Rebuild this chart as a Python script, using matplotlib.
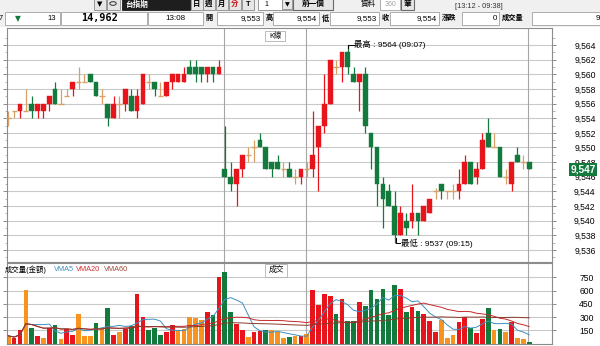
import matplotlib
matplotlib.use('Agg')
import matplotlib.pyplot as plt
from matplotlib.patches import Rectangle
from matplotlib.transforms import blended_transform_factory
import numpy as np
import pandas as pd

plt.rcParams['font.family'] = ['Liberation Sans', 'Noto Sans CJK TC', 'DejaVu Sans']

# ---------------- data ----------------
opens = [9554, 9555, 9555, 9555, 9556, 9555, 9555, 9556, 9558, 9556,
         9557, 9558, 9559, 9559, 9560, 9559, 9557, 9556, 9554, 9556,
         9556, 9557, 9555, 9556, 9559, 9559, 9557, 9557, 9559, 9559,
         9559, 9561, 9561, 9561, 9560, 9561, 9560,
         9547, 9546, 9545, 9547, 9549, 9550, 9551, 9550, 9548, 9548,
         9547, 9547, 9546, 9546, 9547, 9547, 9550, 9553, 9556, 9561,
         9561, 9563, 9560, 9559, 9560, 9552, 9550, 9545, 9544, 9542,
         9538, 9540, 9540, 9541, 9540, 9541, 9544, 9545, 9544, 9544,
         9544, 9545, 9548, 9546, 9547, 9552, 9550, 9550, 9546, 9545,
         9549, 9548, 9548]
highs = [9555, 9555, 9556, 9558, 9557, 9556, 9556, 9557, 9559, 9558,
         9558, 9559, 9561, 9560, 9560, 9559, 9558, 9556, 9557, 9557,
         9558, 9558, 9558, 9560, 9560, 9559, 9559, 9559, 9560, 9560,
         9561, 9562, 9562, 9561, 9561, 9561, 9562,
         9553, 9548, 9547, 9549, 9550, 9551, 9552, 9550, 9548, 9549,
         9548, 9548, 9547, 9547, 9548, 9555, 9553, 9560, 9562, 9562,
         9563, 9564, 9561, 9560, 9561, 9552, 9550, 9546, 9545, 9544,
         9542, 9541, 9545, 9541, 9542, 9543, 9544.5, 9545, 9544, 9545,
         9547, 9549, 9548, 9548, 9552, 9554, 9552, 9550, 9547, 9548,
         9550, 9549, 9548]
lows = [9553, 9554, 9554, 9555, 9554, 9554, 9554, 9555, 9556, 9556,
        9557, 9557, 9558, 9559, 9559, 9557, 9556, 9553, 9554, 9554,
        9555, 9555, 9554, 9556, 9558, 9557, 9557, 9557, 9558, 9559,
        9559, 9560, 9559, 9559, 9559, 9559, 9560,
        9546, 9544, 9542, 9546, 9548, 9548, 9550, 9547, 9546, 9547,
        9546, 9546, 9545, 9545, 9546, 9546, 9544, 9552, 9556, 9560,
        9559, 9560, 9559, 9555, 9552, 9547, 9542, 9539, 9542, 9537,
        9538, 9538, 9539, 9538, 9540, 9541, 9543, 9543, 9543, 9543,
        9543, 9545, 9545, 9545, 9547, 9550, 9550, 9546, 9545, 9544,
        9548, 9547, 9547]
closes = [9554, 9555, 9556, 9555, 9555, 9556, 9556, 9557, 9556, 9556,
          9557, 9559, 9559, 9559, 9559, 9557, 9557, 9554, 9556, 9556,
          9558, 9555, 9557, 9560, 9559, 9558, 9557, 9559, 9560, 9560,
          9560, 9560, 9560, 9560, 9561, 9560, 9561,
          9546, 9545, 9547, 9549, 9549, 9550, 9550, 9547, 9547, 9547,
          9547, 9546, 9546, 9547, 9547, 9549, 9553, 9556, 9562, 9561,
          9563, 9561, 9559, 9560, 9553, 9550, 9545, 9543, 9542, 9538,
          9541, 9539, 9541, 9540, 9542, 9543, 9544, 9544, 9544, 9544,
          9545, 9548, 9545, 9547, 9551, 9550, 9550, 9546, 9546, 9548,
          9548, 9548, 9547]
volumes = [87, 60, 148, 603, 178, 87, 57, 178, 208, 49,
           170, 91, 330, 87, 80, 231, 163, 406, 95, 133,
           170, 201, 557, 299, 148, 178, 91, 125, 208, 140,
           163, 299, 292, 269, 360, 322, 754,
           807, 360, 224, 155, 72, 133, 140, 148, 148, 125,
           61, 72, 87, 80, 110, 603, 440, 565, 542, 337,
           504, 250, 250, 466, 421, 603, 504, 618, 322, 667,
           618, 352, 413, 368, 337, 254, 133, 269, 61, 95,
           239, 299, 178, 117, 277, 406, 155, 170, 133, 239,
           57, 49, 19]
vol_dirs = ("orrogrorgo"
            "rrooogogro"
            "rgrrgggrro"
            "oooorgrggr"
            "rorrgooogo"
            "rorrrrgrgg"
            "rggggggrgr"
            "grrrooorrg"
            "rrgogoroog")

price_ticks = list(range(9536, 9565, 2))
vol_ticks = [150, 300, 450, 600, 750]
separators = [37, 51, 89]
last_price = 9547
high_label = "最高 : 9564 (09:07)"
low_label = "最低 : 9537 (09:15)"

# ---------------- figure helpers ----------------
W, H = 600, 346
fig = plt.figure(figsize=(6, 3.46), dpi=100)
fig.patch.set_facecolor('white')

def fx(x):
    return x / W

def fy(y):
    return 1 - y / H

def ftext(x, y, s, **kw):
    kw.setdefault('va', 'center')
    kw.setdefault('fontsize', 5.3)
    fig.text(fx(x), fy(y), s, **kw)

def frect(x0, y0, x1, y1, fc='white', ec='#a0a0a0', lw=0.6, z=0):
    fig.add_artist(Rectangle((fx(x0), fy(y1)), fx(x1) - fx(x0), fy(y0) - fy(y1),
                             transform=fig.transFigure, fc=fc, ec=ec, lw=lw, zorder=z))

RED = '#e8141b'
GREEN = '#117a3c'
TAN = '#d9a064'
ORANGE = '#f7931e'
GRID = '#c9c9c9'
SEP = '#a5a5a5'

# ---------------- header ----------------
frect(0, 0, 600, 27, fc='#f0f0f0', ec='none')
# row 1
frect(94, -2, 106, 10, fc='#e6e6e6', ec='#8a8a8a')
ftext(100, 4.5, '▼', ha='center', fontsize=5, family=['DejaVu Sans'])
frect(107, -2, 120, 10, fc='#e6e6e6', ec='#8a8a8a')
fig.add_artist(matplotlib.patches.Circle((fx(113), fy(3.5)), 3.2 / W, transform=fig.transFigure,
                                         fc='none', ec='#444444', lw=0.8))
frect(122, -2, 190, 10, fc='#1e1e1e', ec='#1e1e1e')
ftext(125, 4.5, '台指期', color='white', fontweight='bold', fontsize=5.5)
for x0, s, c in [(191, '日', 'black'), (203, '週', 'black'), (216, '月', 'black'),
                 (229, '分', '#d01010'), (242, 'T', 'black')]:
    frect(x0, -2, x0 + 12, 10, fc='#e6e6e6', ec='#8a8a8a')
    ftext(x0 + 6, 4.5, s, ha='center', color=c, fontweight='bold', fontsize=5.3)
frect(258, -2, 293, 10, fc='white', ec='#8a8a8a')
ftext(266, 4.5, '1', ha='center', fontsize=5)
frect(282, -1, 292, 9, fc='#e6e6e6', ec='#8a8a8a')
ftext(287, 4.5, '▼', ha='center', fontsize=4.5, family=['DejaVu Sans'])
frect(293, -2, 333, 10, fc='#e6e6e6', ec='#6a6a6a', lw=0.8)
ftext(313, 4.5, '前一個', ha='center', fontweight='bold', fontsize=5.5)
ftext(368, 4.5, '資料', ha='center', fontsize=5.5)
frect(380, -2, 400, 10, fc='white', ec='#a0a0a0')
ftext(391, 4.5, '360', ha='center', color='#a0a0a0', fontsize=5)
frect(401, -2, 414, 10, fc='#e6e6e6', ec='#6a6a6a', lw=0.8)
ftext(407.5, 4.5, '筆', ha='center', fontweight='bold', fontsize=5.5)
ftext(479, 6, '[13:12 - 09:38]', ha='center', color='#333333', fontsize=5.3)

# row 2
ftext(3, 18.5, '7', ha='right', fontsize=5.3)
frect(5, 12, 60, 25, fc='white', ec='#a0a0a0')
ftext(17.5, 18.5, '▼', ha='center', color=GREEN, fontsize=5.5, family=['DejaVu Sans'])
ftext(56, 18.5, '13', ha='right', fontsize=5.5)
frect(61, 12, 147, 25, fc='white', ec='#a0a0a0')
ftext(118, 18.5, '14,962', ha='right', fontweight='bold', fontsize=7.3, family=['DejaVu Sans Mono', 'Liberation Sans'])
frect(148, 12, 203, 25, fc='white', ec='#a0a0a0')
ftext(175, 18.5, '13:08', ha='center', fontsize=5.8)
fields = [(203, '開', 217, 263, '9,553'), (264, '高', 273, 319, '9,554'),
          (320, '低', 330, 379, '9,553'), (380, '收', 390, 439, '9,554'),
          (440, '漲跌', 462, 499, '0'), (500, '成交量', 532, 602, '9')]
for lx, lab, bx0, bx1, val in fields:
    ftext(lx + 2, 18.5, lab, ha='left', fontsize=5.2, fontweight='bold')
    frect(bx0, 12, bx1, 25, fc='white', ec='#a0a0a0')
    ftext(bx1 - 2, 18.5, val, ha='right', fontsize=5.8)

# ---------------- main price axes ----------------
n = len(closes)
x = np.arange(n)
xlim = (-0.22, 92.9)

ax = fig.add_axes([fx(7), fy(262), (552 - 7) / W, (262 - 28) / H])
ax.set_xlim(*xlim)
ax.set_ylim(9534.36, 9566.32)
ax.hlines(price_ticks, xlim[0], xlim[1], color=GRID, lw=0.8, zorder=0)
for s in separators:
    ax.axvline(s - 0.2, color=SEP, lw=0.8, zorder=0.5)

for i in range(n):
    o, h, l, c = opens[i], highs[i], lows[i], closes[i]
    if c > o:
        col = RED
    elif c < o:
        col = GREEN
    else:
        col = TAN
    ax.vlines(x[i], l, h, color=col, lw=0.9, zorder=2)
    if c == o:
        ax.hlines(o, x[i] - 0.45, x[i] + 0.45, color=col, lw=1.0, zorder=3)
    else:
        ax.add_patch(Rectangle((x[i] - 0.4, min(o, c)), 0.8, abs(c - o), fc=col, ec=col, lw=0.3, zorder=3))

# high / low annotations
ih = int(np.argmax(highs))
il = int(np.argmin(lows))
ax.plot([x[ih], x[ih], x[ih] + 1.0], [highs[ih] - 0.35, highs[ih], highs[ih]], color='black', lw=0.7, zorder=5)
ax.text(x[ih] + 1.05, highs[ih], high_label, fontsize=6, va='center', ha='left', zorder=5)
ax.plot([x[il] + 0.2, x[il] + 0.2, x[il] + 1.0], [lows[il] + 0.6, lows[il] - 0.1, lows[il] - 0.1], color='black', lw=0.7, zorder=5)
ax.text(x[il] + 1.05, lows[il] - 0.1, low_label, fontsize=6, va='center', ha='left', zorder=5)

ax.set_xticks([])
ax.set_yticks(price_ticks)
ax.set_yticklabels([f'{v:,}' for v in price_ticks])
ax.set_yticks(np.arange(9535, 9566, 1), minor=True)
ax.yaxis.tick_right()
ax.tick_params(axis='y', which='major', direction='out', length=3, width=0.6, color='#777777',
               pad=28.5, labelsize=6.2, left=True, right=True, labelleft=False, labelright=True)
ax.tick_params(axis='y', which='minor', direction='out', length=1.8, width=0.5, color='#999999',
               left=True, right=True)
for lab in ax.get_yticklabels():
    lab.set_ha('right')
for sp in ax.spines.values():
    sp.set_color('#8c8c8c')
    sp.set_linewidth(0.8)

# last price box
bt = blended_transform_factory(fig.transFigure, ax.transData)
ax.text(fx(596), last_price, f'{last_price:,}', transform=bt, ha='right', va='center',
        color='white', fontweight='bold', fontsize=7.3, clip_on=False, zorder=10,
        bbox=dict(boxstyle='square,pad=0.12', fc=GREEN, ec='none'))

# K線 box
frect(265, 30.5, 285, 41, fc='white', ec='#b0b0b0', z=5)
ftext(275, 36, 'K線', ha='center', fontsize=5.3, zorder=6)

# ---------------- volume axes ----------------
axv = fig.add_axes([fx(7), fy(343.5), (552 - 7) / W, (343.5 - 263) / H])
axv.set_xlim(*xlim)
axv.set_ylim(0, 914)
axv.hlines(vol_ticks, xlim[0], xlim[1], color=GRID, lw=0.8, zorder=0)
for s in separators:
    axv.axvline(s - 0.2, color=SEP, lw=0.8, zorder=0.5)
cmap = {'r': RED, 'g': GREEN, 'o': ORANGE}
axv.bar(x, volumes, width=0.8, color=[cmap[d] for d in vol_dirs], zorder=2)

vs = pd.Series(volumes, dtype=float)
axv.plot(x, vs.rolling(5, min_periods=1).mean(), color='#3f8fbf', lw=0.7, zorder=4)
axv.plot(x, vs.rolling(20, min_periods=1).mean(), color='#c62828', lw=0.7, zorder=4)
axv.plot(x, vs.rolling(60, min_periods=1).mean(), color='#8b3a2a', lw=0.7, zorder=4)

axv.set_xticks([])
axv.set_yticks(vol_ticks)
axv.set_yticklabels([str(v) for v in vol_ticks])
axv.yaxis.tick_right()
axv.tick_params(axis='y', direction='out', length=3, width=0.6, color='#777777',
                pad=27, labelsize=6.2, left=True, right=True, labelleft=False, labelright=True)
for lab in axv.get_yticklabels():
    lab.set_ha('right')
for sp in axv.spines.values():
    sp.set_color('#8c8c8c')
    sp.set_linewidth(0.8)

ftext(5, 269.5, '成交量(金額)', ha='left', fontsize=5.3)
ftext(54, 269.5, 'VMA5', ha='left', fontsize=5.3, color='#3f8fbf')
ftext(76, 269.5, 'VMA20', ha='left', fontsize=5.3, color='#d32f2f')
ftext(104, 269.5, 'VMA60', ha='left', fontsize=5.3, color='#9a4a3a')
frect(265, 263.5, 287, 276.5, fc='white', ec='#b0b0b0', z=5)
ftext(276, 270, '成交', ha='center', fontsize=5.6, zorder=6)

fig.savefig('out.png', dpi=100)
